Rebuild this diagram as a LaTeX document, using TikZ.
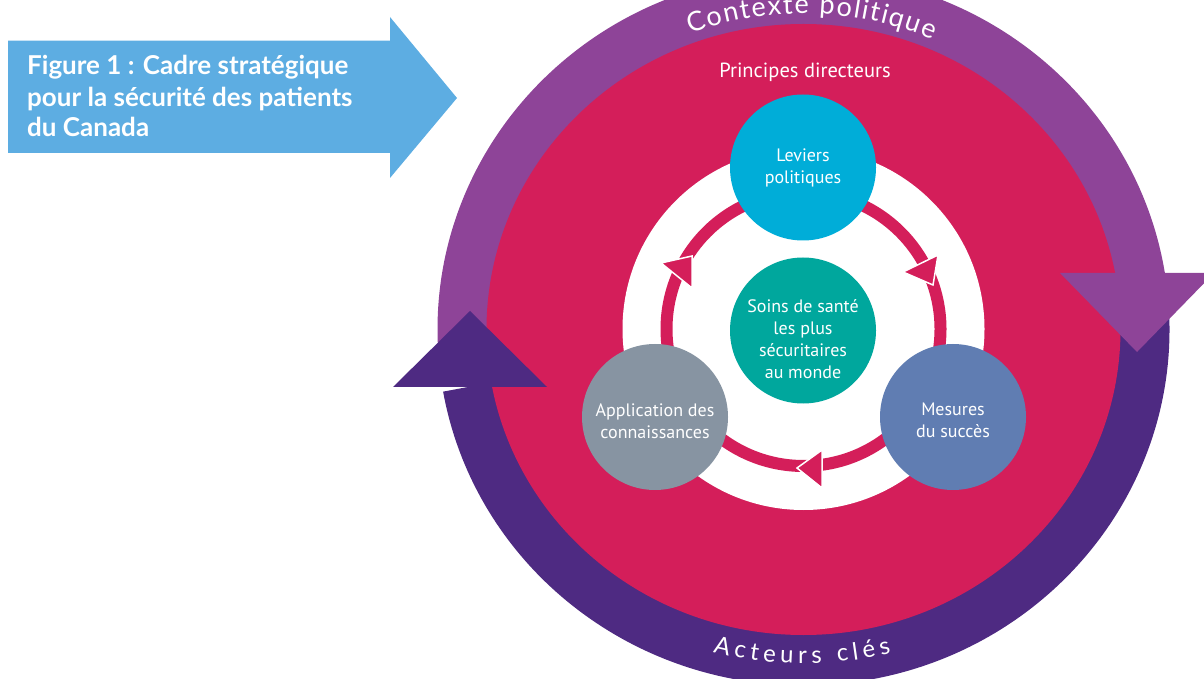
\documentclass[tikz,border=0pt]{standalone}
\usepackage{fontspec}
\usetikzlibrary{decorations.text}
\newfontfamily\titlefont{Lato}
\newfontfamily\labelfont{PT Sans}
\newfontfamily\ringfont{Lato}
\definecolor{ringlight}{RGB}{142,68,152}
\definecolor{ringdark}{RGB}{78,42,130}
\definecolor{crimson}{RGB}{212,30,90}
\definecolor{titleblue}{RGB}{93,173,226}
\definecolor{leverblue}{RGB}{0,173,216}
\definecolor{safeteal}{RGB}{0,167,157}
\definecolor{knowgrey}{RGB}{135,148,162}
\definecolor{measureblue}{RGB}{96,125,178}

\begin{document}
\begin{tikzpicture}[x=1pt,y=1pt,
  hub/.style={circle, minimum size=146pt, inner sep=0pt, draw=none},
  hubtext/.style={text=white, align=center, inner sep=0pt,
    font=\labelfont\fontsize{18}{22}\selectfont},
  titleline/.style={anchor=base west, inner sep=0pt, text=white,
    font=\titlefont\bfseries\fontsize{26}{30}\selectfont},
  ringband/.style={line width=60pt},
  cyclehead/.style={fill=crimson, draw=white, line width=1.5pt, line join=miter},
]
\clip (0,0) rectangle (1204,678);
\coordinate (C) at (803.5,348.5);
\coordinate (I) at (803.5,349);

% title banner
\fill[titleblue] (8,637.3) -- (390,637.3) -- (390,661) -- (457,580)
  -- (390,500) -- (390,525) -- (8,525) -- cycle;
\node[titleline] (title1) at (27,603) {Figure 1 : Cadre stratégique};
\node[titleline] (title2) at (27,571.3) {pour la sécurité des patients};
\node[titleline] (title3) at (27,541.3) {du Canada};

% outer ring: context (top) and key actors (bottom)
\draw[ringband, ringlight] ([shift={(182.5:336pt and 326pt)}]C)
  arc[start angle=182.5, end angle=8, x radius=336pt, y radius=326pt];
\draw[ringband, ringdark] ([shift={(2:336pt and 326pt)}]C)
  arc[start angle=2, end angle=-170, x radius=336pt, y radius=326pt];

% guiding principles disc
\fill[crimson] (C) ellipse[x radius=317pt, y radius=305.5pt];

% outer ring arrowheads
\fill[ringlight] (1060,405) -- (1214,405) -- (1137,326) -- cycle;
\fill[ringdark] (393,291) -- (547,291) -- (470,367) -- cycle;

% ring labels
\path[decorate, decoration={text along path, text color=white,
    text={|\ringfont\fontsize{27}{30}\selectfont|Contexte politique},
    text align={fit to path}}]
  ([shift={(110.5:324pt and 316pt)}]C)
  arc[start angle=110.5, end angle=66.5, x radius=324pt, y radius=316pt];
\path[decorate, decoration={text along path, text color=white,
    text={|\ringfont\fontsize{24}{26}\selectfont|Acteurs clés},
    text align={fit to path}}]
  ([shift={(255:350pt and 334pt)}]C)
  arc[start angle=255, end angle=284.5, x radius=350pt, y radius=334pt];

\node[anchor=base, inner sep=0pt, text=white,
  font=\labelfont\fontsize{20.5}{22}\selectfont] (principles) at (805,600.7)
  {Principes directeurs};

% inner cycle
\fill[white] (I) circle[radius=181pt];
\draw[crimson, line width=12pt] (I) circle[radius=137pt];
\filldraw[cyclehead] (661,415) -- (692,422) -- (692,390) -- cycle;
\filldraw[cyclehead] (903,406) -- (938,423) -- (933,393) -- cycle;
\filldraw[cyclehead] (797,210) -- (822,228) -- (822,190) -- cycle;

% hubs
\node[hub, fill=leverblue] (levers) at (803,510.5) {};
\node[hub, fill=safeteal] (safest) at (803,347.5) {};
\node[hub, fill=knowgrey] (knowledge) at (655,261) {};
\node[hub, fill=measureblue] (measures) at (953,261) {};

\node[hubtext] (leverslabel) at (803,510) {Leviers\\politiques};
\node[hubtext] (safestlabel) at (803,338.5) {Soins de santé\\les plus\\sécuritaires\\au monde};
\node[hubtext] (knowledgelabel) at (655,256.5) {Application des\\connaissances};
\node[hubtext] (measureslabel) at (953,258) {Mesures\\du succès};
\end{tikzpicture}
\end{document}
